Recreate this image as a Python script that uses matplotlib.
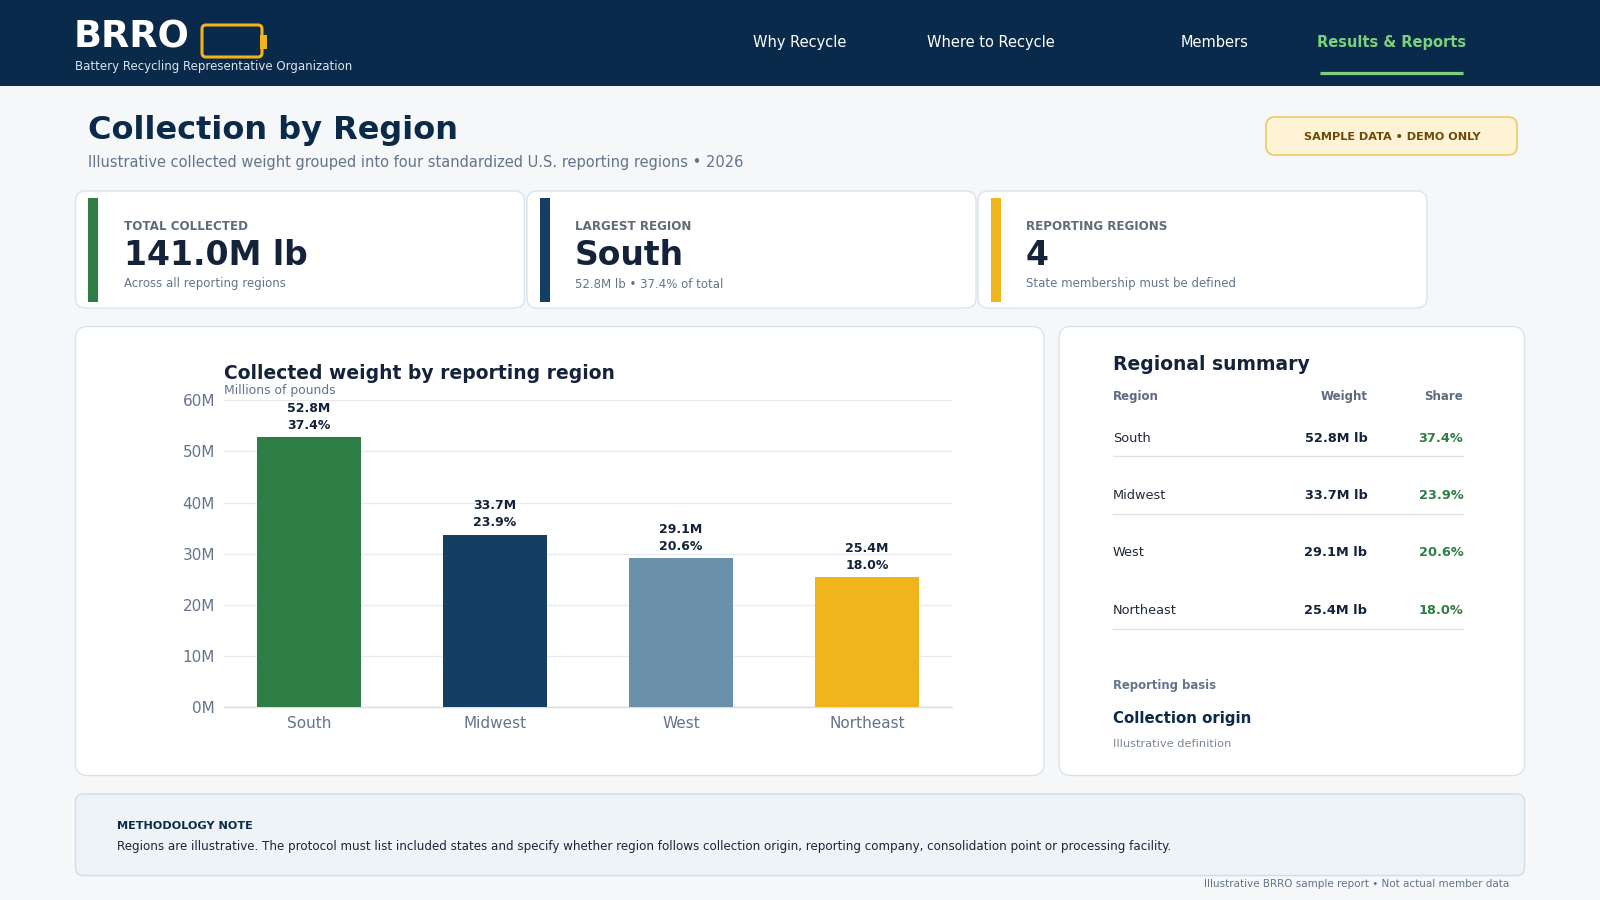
import matplotlib
matplotlib.use("Agg")
import matplotlib.pyplot as plt
from matplotlib.patches import FancyBboxPatch, Rectangle
from matplotlib.lines import Line2D

# data
regions = ["South", "Midwest", "West", "Northeast"]
weights_m = [52.8, 33.7, 29.1, 25.4]
shares_pct = [37.4, 23.9, 20.6, 18.0]
bar_colors = ["#2e7d45", "#143e63", "#6b90aa", "#f0b41c"]
y_ticks = [0, 10, 20, 30, 40, 50, 60]
nav_items = ["Why Recycle", "Where to Recycle", "Members", "Results & Reports"]
nav_x = [800, 991, 1215, 1392]

# colors
NAVY = "#0a2a4b"
TITLE = "#0b2a4a"
INK = "#14233a"
GRAY = "#64748b"
LABEL = "#5d6b7d"
BORDER = "#dbe3ea"
PAGE = "#f5f7f9"

plt.rcParams["font.family"] = ["DejaVu Sans"]

fig = plt.figure(figsize=(16, 9), dpi=100)
fig.patch.set_facecolor(PAGE)

bg = fig.add_axes([0, 0, 1, 1])
bg.set_xlim(0, 1600)
bg.set_ylim(900, 0)
bg.axis("off")


def box(x0, y0, x1, y1, fc, ec, r=10, lw=1.0, z=1):
    p = FancyBboxPatch((x0, y0), x1 - x0, y1 - y0,
                       boxstyle=f"round,pad=0,rounding_size={r}",
                       fc=fc, ec=ec, lw=lw, zorder=z)
    bg.add_patch(p)


def txt(x, y, s, size, color, weight="normal", ha="left"):
    bg.text(x, y, s, fontsize=size, color=color, fontweight=weight,
            ha=ha, va="baseline", zorder=5)


# header bar
bg.add_patch(Rectangle((0, 0), 1600, 86, fc=NAVY, ec="none", zorder=1))
txt(74, 47, "BRRO", 26.5, "white", "bold")
box(202, 25, 262, 57, "none", "#f0b41c", r=4, lw=2.2, z=3)
bg.add_patch(Rectangle((260, 35), 7, 14, fc="#f0b41c", ec="none", zorder=3))
txt(75, 70, "Battery Recycling Representative Organization", 8.5, "#dde4ec")

for name, x in zip(nav_items, nav_x):
    active = name == "Results & Reports"
    txt(x, 47, name, 10.5, "#7dd07d" if active else "white",
        "bold" if active else "normal", ha="center")
bg.add_line(Line2D([1320, 1463], [72.5, 72.5], color="#7dd07d", lw=2.3,
                   solid_capstyle="butt", zorder=3))

# page title
txt(88, 139, "Collection by Region", 23, TITLE, "bold")
txt(88, 166.5, "Illustrative collected weight grouped into four standardized "
    "U.S. reporting regions \u2022 2026", 10.5, GRAY)

box(1266, 117, 1517, 155, "#fff3d5", "#ecc96a", r=9, lw=1.2)
txt(1392, 140, "SAMPLE DATA \u2022 DEMO ONLY", 8.1, "#6b4a06", "bold", ha="center")

# KPI cards
total = sum(weights_m)
top_i = weights_m.index(max(weights_m))
kpis = [
    ("TOTAL COLLECTED", f"{total:.1f}M lb", "Across all reporting regions", "#2e7d45"),
    ("LARGEST REGION", regions[top_i],
     f"{weights_m[top_i]:.1f}M lb \u2022 {shares_pct[top_i]:.1f}% of total", "#143e63"),
    ("REPORTING REGIONS", str(len(regions)), "State membership must be defined", "#f0b41c"),
]
card_x = [75.5, 527, 978]
for (lab, val, sub, col), x0 in zip(kpis, card_x):
    box(x0, 191, x0 + 449, 308, "white", BORDER, r=10)
    bg.add_patch(Rectangle((x0 + 12.5, 198), 10, 104, fc=col, ec="none", zorder=3))
    txt(x0 + 48, 230.5, lab, 8.6, LABEL, "bold")
    txt(x0 + 48, 265, val, 23.8, INK, "bold")
    txt(x0 + 48, 287.5, sub, 8.45, GRAY)

# chart card
box(75.5, 326.5, 1044, 775.5, "white", BORDER, r=12)
txt(224.5, 379, "Collected weight by reporting region", 13.5, INK, "bold")
txt(224.5, 394, "Millions of pounds", 8.9, GRAY)

ax = fig.add_axes([224 / 1600, (900 - 707) / 900, (952 - 224) / 1600, (707 - 400.3) / 900])
ax.set_facecolor("none")
xs = list(range(len(regions)))
ax.bar(xs, weights_m, width=0.56, color=bar_colors, zorder=3)
for x, w, s in zip(xs, weights_m, shares_pct):
    ax.annotate(f"{w:.1f}M\n{s:.1f}%", (x, w), xytext=(0, 4), textcoords="offset points",
                ha="center", va="bottom", fontsize=9, fontweight="bold", color=INK,
                linespacing=1.4, annotation_clip=False)
ax.set_xlim(-0.457, 3.457)
ax.set_ylim(0, 60)
ax.set_yticks(y_ticks)
ax.set_yticklabels([f"{t}M" for t in y_ticks])
ax.set_xticks(xs)
ax.set_xticklabels(regions)
ax.tick_params(axis="y", length=0, pad=6.5, labelsize=11, labelcolor=GRAY)
ax.tick_params(axis="x", length=0, pad=6.5, labelsize=11, labelcolor=GRAY)
ax.grid(axis="y", color="#e6ebf1", lw=1, zorder=0)
for sp in ["top", "right", "left"]:
    ax.spines[sp].set_visible(False)
ax.spines["bottom"].set_color("#d6dde5")
ax.spines["bottom"].set_linewidth(1)

# summary card
box(1059, 326.5, 1524.5, 775.5, "white", BORDER, r=12)
sx, wx, shx = 1112.7, 1367.3, 1463.3
txt(sx, 370, "Regional summary", 13.5, INK, "bold")
txt(sx, 400, "Region", 8.5, LABEL, "bold")
txt(wx, 400, "Weight", 8.5, LABEL, "bold", ha="right")
txt(shx, 400, "Share", 8.5, LABEL, "bold", ha="right")
row_y = [441.7, 499.3, 556.3, 614.3]
rule_y = [456, 514.3, None, 629.3]
for name, w, s, y, ry in zip(regions, weights_m, shares_pct, row_y, rule_y):
    txt(sx, y, name, 9.3, "#1f2937")
    txt(wx, y, f"{w:.1f}M lb", 9.3, INK, "bold", ha="right")
    txt(shx, y, f"{s:.1f}%", 9.3, "#2e7d45", "bold", ha="right")
    if ry is not None:
        bg.add_line(Line2D([sx, shx], [ry, ry], color="#dbe3ea", lw=1, zorder=3))
txt(sx, 689.3, "Reporting basis", 8.4, GRAY, "bold")
txt(sx, 723.3, "Collection origin", 10.8, TITLE, "bold")
txt(sx, 746.7, "Illustrative definition", 8.2, "#7b8794")

# methodology note
box(75.5, 794, 1524.5, 875.5, "#eef3f7", "#d0dde7", r=8)
txt(117, 829.3, "METHODOLOGY NOTE", 8.15, TITLE, "bold")
txt(117, 850, "Regions are illustrative. The protocol must list included states and specify "
    "whether region follows collection origin, reporting company, consolidation point "
    "or processing facility.", 8.6, "#1a2639")
txt(1509, 886.7, "Illustrative BRRO sample report \u2022 Not actual member data", 7.5, GRAY, ha="right")

fig.savefig("out.png", dpi=100, facecolor=PAGE)
